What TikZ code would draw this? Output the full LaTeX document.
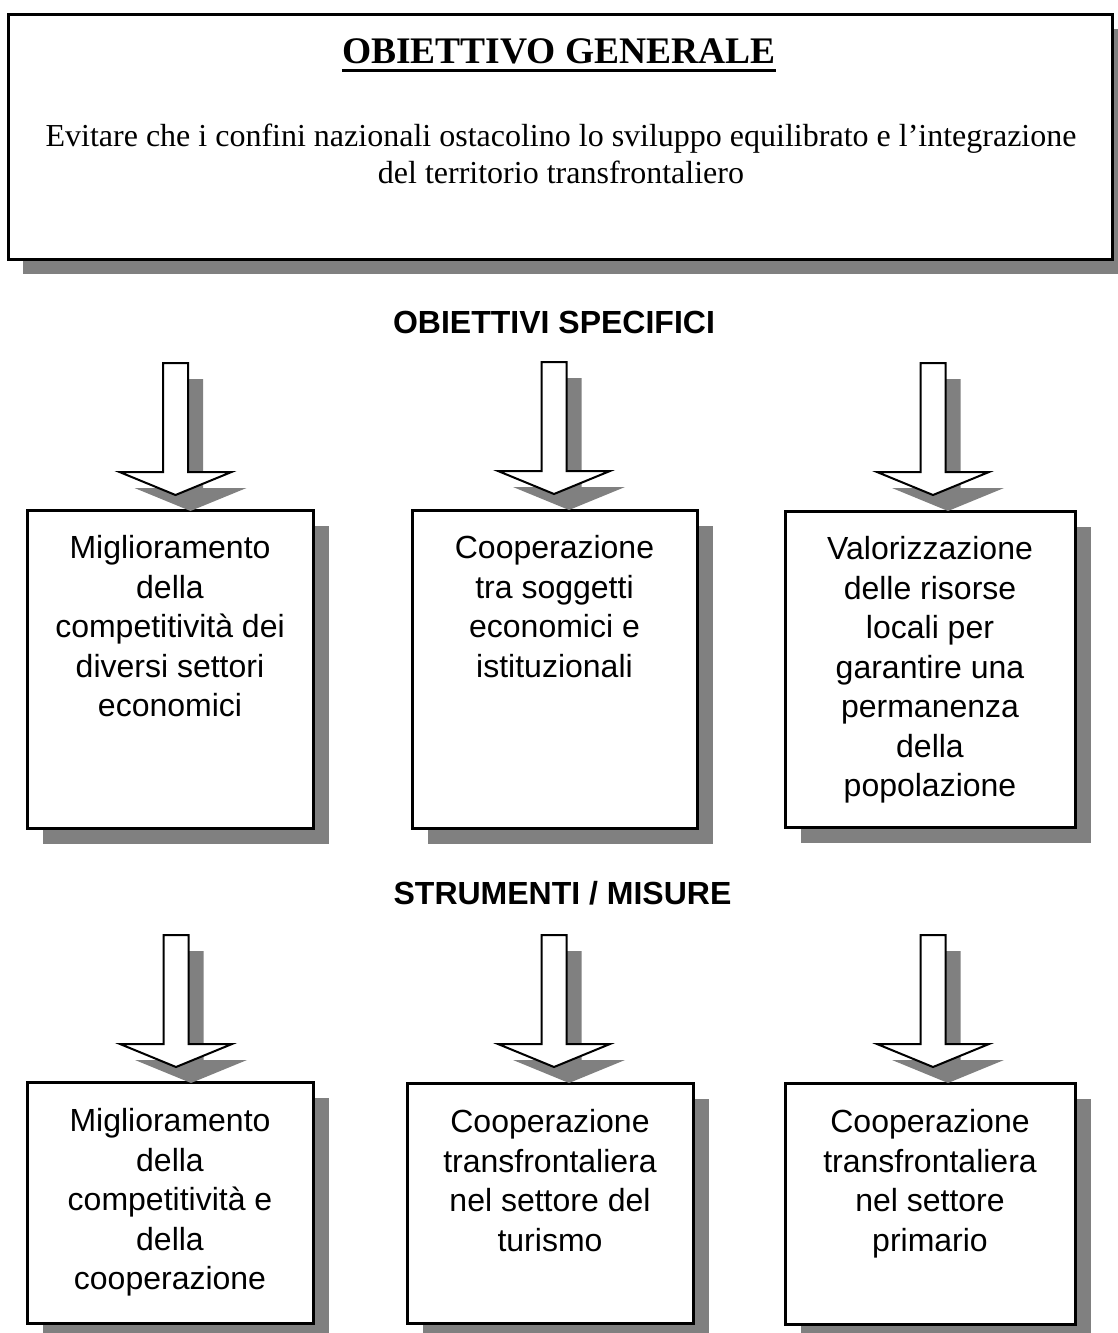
\documentclass[tikz,border=0pt]{standalone}
\usepackage{fontspec}
\setmainfont{Liberation Serif}
\setsansfont{Liberation Sans}
\usetikzlibrary{shadows}
\definecolor{shadowgray}{RGB}{128,128,128}
\tikzset{
  x=1pt, y=-1pt,
  framebox/.style={draw=black, line width=3pt, fill=white, inner sep=0pt,
    drop shadow={shadow xshift=16pt, shadow yshift=-16pt, fill=shadowgray, opacity=1}},
  goalbox/.style={draw=black, line width=3pt, fill=white, inner sep=0pt,
    drop shadow={shadow xshift=15pt, shadow yshift=-15pt, fill=shadowgray, opacity=1}},
  boxtext/.style={anchor=north, inner sep=0pt, align=center,
    font=\sffamily\fontsize{32}{39.5}\selectfont},
  heading/.style={font=\sffamily\bfseries\fontsize{32}{38}\selectfont,
    inner sep=0pt, anchor=base},
  downarrow/.pic={
    % grey shadow first, then the white outlined block arrow
    \fill[shadowgray, shift={(15,16)}] (-12.5,-132) -- (12.5,-132) -- (12.5,-23)
      -- (56,-23) -- (0,0) -- (-56,-23) -- (-12.5,-23) -- cycle;
    \draw[fill=white, line width=2pt, line join=miter] (-12.5,-132) -- (12.5,-132)
      -- (12.5,-23) -- (56,-23) -- (0,0) -- (-56,-23) -- (-12.5,-23) -- cycle;
  }
}
\begin{document}
\begin{tikzpicture}
\useasboundingbox (0,0) rectangle (1118,1333);

% general objective
\node[goalbox, minimum width=1104, minimum height=245] (gen) at (560,136.5) {};
\node[font=\bfseries\fontsize{37.5}{40}\selectfont, anchor=base, inner sep=0pt]
  (title) at (559,63.5) {OBIETTIVO GENERALE};
\draw[line width=3pt] ([yshift=-6.5pt]title.base west) -- ([yshift=-6.5pt]title.base east);
\node[anchor=north, align=center, inner sep=0pt, font=\fontsize{32}{37}\selectfont]
  (goal) at (561,124) {Evitare che i confini nazionali ostacolino lo sviluppo equilibrato e l’integrazione\\del territorio transfrontaliero};

% specific objectives
\node[heading] (hspec) at (554,333.5) {OBIETTIVI SPECIFICI};

\node[framebox, minimum width=286, minimum height=318] (b1) at (170,669) {};
\node[framebox, minimum width=285, minimum height=318] (b2) at (554.5,669) {};
\node[framebox, minimum width=290, minimum height=316] (b3) at (930,669) {};

\node[boxtext] (tb1) at ([yshift=-27pt]b1.north) {Miglioramento\\della\\competitività dei\\diversi settori\\economici};
\node[boxtext] (tb2) at ([yshift=-27pt]b2.north) {Cooperazione\\tra soggetti\\economici e\\istituzionali};
\node[boxtext] (tb3) at ([yshift=-27pt]b3.north) {Valorizzazione\\delle risorse\\locali per\\garantire una\\permanenza\\della\\popolazione};

\coordinate (a1) at (175.5,495);
\coordinate (a2) at (554,494);
\coordinate (a3) at (933,495);
\pic at (a1) {downarrow};
\pic at (a2) {downarrow};
\pic at (a3) {downarrow};

% instruments / measures
\node[heading] (hmis) at (562.5,904.5) {STRUMENTI / MISURE};

\node[framebox, minimum width=286, minimum height=241] (c1) at (170,1202.5) {};
\node[framebox, minimum width=286, minimum height=240] (c2) at (550,1203) {};
\node[framebox, minimum width=290, minimum height=241] (c3) at (930,1203.5) {};

\node[boxtext] (tc1) at ([yshift=-28pt]c1.north) {Miglioramento\\della\\competitività e\\della\\cooperazione};
\node[boxtext] (tc2) at ([yshift=-28pt]c2.north) {Cooperazione\\transfrontaliera\\nel settore del\\turismo};
\node[boxtext] (tc3) at ([yshift=-28pt]c3.north) {Cooperazione\\transfrontaliera\\nel settore\\primario};

\coordinate (d1) at (176,1067);
\coordinate (d2) at (554,1067);
\coordinate (d3) at (933,1067);
\pic at (d1) {downarrow};
\pic at (d2) {downarrow};
\pic at (d3) {downarrow};
\end{tikzpicture}
\end{document}
